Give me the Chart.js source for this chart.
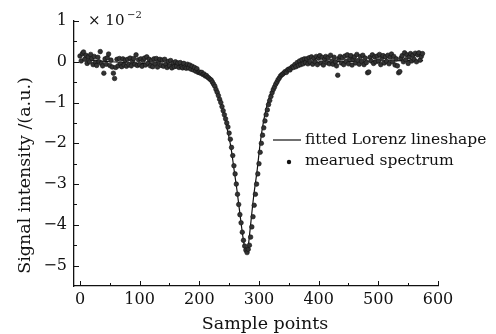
<!DOCTYPE html>
<html>
<head>
<meta charset="utf-8">
<script src="https://cdn.jsdelivr.net/npm/chart.js@4.4.0/dist/chart.umd.min.js"></script>
<style>
  html, body { margin: 0; padding: 0; background: #fff; }
  #wrap { width: 496px; height: 334px; position: relative; }
</style>
</head>
<body>
<div id="wrap"><canvas id="chart"></canvas></div>
<script>
// measured spectrum: sample index
const measuredX = [
  0, 2, 4, 6, 8, 10, 12, 14, 16, 18,
  20, 22, 24, 26, 28, 30, 32, 34, 36, 38,
  40, 42, 44, 46, 48, 50, 52, 54, 56, 58,
  60, 62, 64, 66, 68, 70, 72, 74, 76, 78,
  80, 82, 84, 86, 88, 90, 92, 94, 96, 98,
  100, 102, 104, 106, 108, 110, 112, 114, 116, 118,
  120, 122, 124, 126, 128, 130, 132, 134, 136, 138,
  140, 142, 144, 146, 148, 150, 152, 154, 156, 158,
  160, 162, 164, 166, 168, 170, 172, 174, 176, 178,
  180, 182, 184, 186, 188, 190, 192, 194, 196, 198,
  200, 202, 204, 206, 208, 210, 212, 214, 216, 218,
  220, 222, 224, 226, 228, 230, 232, 234, 236, 238,
  240, 242, 244, 246, 248, 250, 252, 254, 256, 258,
  260, 262, 264, 266, 268, 270, 272, 274, 276, 278,
  280, 282, 284, 286, 288, 290, 292, 294, 296, 298,
  300, 302, 304, 306, 308, 310, 312, 314, 316, 318,
  320, 322, 324, 326, 328, 330, 332, 334, 336, 338,
  340, 342, 344, 346, 348, 350, 352, 354, 356, 358,
  360, 362, 364, 366, 368, 370, 372, 374, 376, 378,
  380, 382, 384, 386, 388, 390, 392, 394, 396, 398,
  400, 402, 404, 406, 408, 410, 412, 414, 416, 418,
  420, 422, 424, 426, 428, 430, 432, 434, 436, 438,
  440, 442, 444, 446, 448, 450, 452, 454, 456, 458,
  460, 462, 464, 466, 468, 470, 472, 474, 476, 478,
  480, 482, 484, 486, 488, 490, 492, 494, 496, 498,
  500, 502, 504, 506, 508, 510, 512, 514, 516, 518,
  520, 522, 524, 526, 528, 530, 532, 534, 536, 538,
  540, 542, 544, 546, 548, 550, 552, 554, 556, 558,
  560, 562, 564, 566, 568, 570, 572, 574
];
// measured spectrum: signal (x 1e-2)
const measuredY = [
  0.14, 0.02, 0.20, 0.24, 0.06, 0.16, -0.04, 0.12, 0.00, 0.18,
  0.08, -0.07, 0.13, -0.01, -0.09, 0.11, 0.00, 0.25, -0.04, -0.10,
  -0.28, 0.07, -0.06, 0.10, 0.19, -0.09, 0.04, -0.13, -0.28, -0.41,
  -0.14, 0.06, -0.10, 0.08, -0.05, -0.12, 0.07, -0.08, 0.04, -0.11,
  0.06, -0.07, 0.09, -0.10, 0.02, 0.08, -0.06, 0.17, -0.09, 0.05,
  -0.07, 0.07, -0.11, 0.03, 0.09, -0.08, 0.12, -0.04, 0.06, -0.10,
  0.03, -0.12, 0.07, -0.05, 0.08, -0.13, 0.01, 0.06, -0.09, 0.04,
  -0.11, 0.06, -0.06, -0.14, 0.01, -0.10, 0.03, -0.15, -0.03, -0.12,
  0.00, -0.11, -0.03, -0.14, -0.02, -0.12, -0.15, -0.04, -0.13, -0.16,
  -0.06, -0.15, -0.08, -0.18, -0.11, -0.20, -0.14, -0.23, -0.17, -0.26,
  -0.25, -0.28, -0.26, -0.31, -0.30, -0.35, -0.34, -0.38, -0.40, -0.43,
  -0.45, -0.50, -0.55, -0.60, -0.68, -0.75, -0.83, -0.92, -1.00, -1.10,
  -1.20, -1.30, -1.40, -1.50, -1.60, -1.75, -1.90, -2.10, -2.30, -2.55,
  -2.75, -3.00, -3.25, -3.50, -3.75, -3.95, -4.18, -4.38, -4.52, -4.62,
  -4.68, -4.60, -4.50, -4.30, -4.05, -3.80, -3.52, -3.25, -3.00, -2.75,
  -2.50, -2.22, -2.00, -1.80, -1.62, -1.45, -1.30, -1.18, -1.05, -0.95,
  -0.85, -0.76, -0.68, -0.62, -0.55, -0.50, -0.44, -0.40, -0.35, -0.32,
  -0.30, -0.27, -0.24, -0.26, -0.20, -0.18, -0.20, -0.15, -0.12, -0.14,
  -0.07, -0.12, -0.02, -0.09, 0.02, -0.07, 0.05, -0.05, 0.07, -0.02,
  0.07, -0.05, 0.10, -0.01, 0.12, -0.06, 0.08, 0.00, 0.13, -0.07,
  0.09, 0.15, -0.03, 0.11, -0.08, 0.06, 0.13, -0.02, 0.10, -0.05,
  0.16, 0.01, -0.06, 0.11, 0.00, -0.10, -0.33, 0.08, 0.13, -0.03,
  0.10, -0.07, 0.14, 0.01, 0.17, -0.05, 0.08, 0.15, -0.08, 0.06,
  0.12, -0.03, 0.18, 0.03, -0.06, 0.13, 0.01, 0.16, -0.07, 0.09,
  -0.02, -0.27, -0.25, 0.11, 0.02, 0.17, -0.04, 0.12, 0.00, 0.14,
  0.02, 0.18, -0.07, 0.10, 0.15, -0.03, 0.12, 0.01, 0.16, -0.05,
  0.11, 0.19, 0.00, 0.13, -0.08, 0.07, -0.10, -0.27, -0.24, 0.09,
  0.15, 0.00, 0.22, 0.05, 0.17, -0.04, 0.12, 0.20, 0.02, 0.16,
  0.06, 0.21, 0.00, 0.17, 0.22, 0.04, 0.13, 0.20
];

// fitted Lorentz lineshape
const fitX = [0, 50, 100, 150, 184, 200, 219, 227, 238, 246, 253, 258, 263, 268, 273, 276, 279, 282, 285, 291, 297, 302, 308, 316, 327, 337, 347, 360, 380, 420, 500, 575];
const fitY = [0.06, 0.0, -0.04, -0.07, -0.11, -0.22, -0.44, -0.6, -1.1, -1.6, -2.1, -2.62, -3.14, -3.72, -4.29, -4.55, -4.65, -4.52, -4.13, -3.31, -2.65, -2.0, -1.43, -0.93, -0.52, -0.35, -0.24, -0.12, -0.04, 0.0, 0.02, 0.03];

const xTickValues = [0, 100, 200, 300, 400, 500, 600];
const yTickValues = [1, 0, -1, -2, -3, -4, -5];

const xTitle = 'Sample points';
const yTitle = 'Signal intensity /(a.u.)';
const legendLabels = ['fitted Lorenz lineshape', 'mearued spectrum'];

const FONT = '"DejaVu Serif", serif';
const INK = '#111';

const fmtMinus = (v) => String(v).replace('-', '\u2212');

// inward major/minor ticks, axis titles, exponent and legend
const decorPlugin = {
  id: 'decor',
  afterDraw(chart) {
    const { ctx, chartArea: area, scales: { x, y } } = chart;
    ctx.save();
    ctx.strokeStyle = INK;
    ctx.lineWidth = 1;

    const xt = x.ticks.map(t => t.value);
    ctx.beginPath();
    xt.forEach((v, i) => {
      const px = Math.round(x.getPixelForValue(v)) + 0.5;
      ctx.moveTo(px, area.bottom); ctx.lineTo(px, area.bottom - 5);
      if (i < xt.length - 1) {
        const mx = Math.round(x.getPixelForValue((v + xt[i + 1]) / 2)) + 0.5;
        ctx.moveTo(mx, area.bottom); ctx.lineTo(mx, area.bottom - 3);
      }
    });
    const yt = y.ticks.map(t => t.value);
    yt.forEach((v, i) => {
      const py = Math.round(y.getPixelForValue(v)) + 0.5;
      ctx.moveTo(area.left, py); ctx.lineTo(area.left + 5, py);
      if (i < yt.length - 1) {
        const my = Math.round(y.getPixelForValue((v + yt[i + 1]) / 2)) + 0.5;
        ctx.moveTo(area.left, my); ctx.lineTo(area.left + 3, my);
      }
    });
    ctx.stroke();

    // exponent next to top tick
    ctx.fillStyle = INK;
    ctx.textBaseline = 'middle';
    ctx.textAlign = 'left';
    ctx.font = '15px ' + FONT;
    const topY = y.getPixelForValue(1);
    ctx.fillText('\u00d7 10', area.left + 14, topY);
    ctx.font = '10px ' + FONT;
    ctx.fillText('\u22122', area.left + 53, topY - 6);

    // axis titles
    ctx.font = '17.5px ' + FONT;
    ctx.textAlign = 'center';
    ctx.fillText(xTitle, (area.left + area.right) / 2 + 9, area.bottom + 38);
    ctx.save();
    ctx.translate(25, (area.top + area.bottom) / 2 + 22);
    ctx.rotate(-Math.PI / 2);
    ctx.fillText(yTitle, 0, 0);
    ctx.restore();

    // legend
    const lx = area.right - 165;
    const ly = area.top + 119;
    ctx.beginPath();
    ctx.lineWidth = 1.2;
    ctx.moveTo(lx, ly); ctx.lineTo(lx + 28, ly);
    ctx.stroke();
    ctx.beginPath();
    ctx.arc(lx + 16, ly + 22, 2.2, 0, Math.PI * 2);
    ctx.fill();
    ctx.font = '15.5px ' + FONT;
    ctx.textAlign = 'left';
    ctx.fillText(legendLabels[0], lx + 32, ly);
    ctx.fillText(legendLabels[1], lx + 32, ly + 21);
    ctx.restore();
  }
};

const measured = measuredX.map((v, i) => ({ x: v, y: measuredY[i] }));
const fitted = fitX.map((v, i) => ({ x: v, y: fitY[i] }));

new Chart(document.getElementById('chart'), {
  type: 'scatter',
  data: {
    datasets: [
      {
        label: legendLabels[1],
        data: measured,
        pointRadius: 2.3,
        pointBackgroundColor: '#333',
        pointBorderColor: '#111',
        pointBorderWidth: 0.6,
        showLine: false
      },
      {
        label: legendLabels[0],
        data: fitted,
        showLine: true,
        borderColor: INK,
        borderWidth: 1.2,
        pointRadius: 0,
        cubicInterpolationMode: 'monotone'
      }
    ]
  },
  options: {
    responsive: true,
    maintainAspectRatio: false,
    animation: false,
    layout: { padding: { left: 0, right: 58, top: 21, bottom: 0 } },
    plugins: {
      legend: { display: false },
      tooltip: { enabled: false }
    },
    scales: {
      x: {
        type: 'linear',
        min: -10,
        max: 600,
        afterFit(scale) { scale.height = 48; },
        afterBuildTicks(scale) { scale.ticks = xTickValues.map(v => ({ value: v })); },
        grid: { display: false, drawTicks: false },
        border: { display: true, color: INK, width: 1.3 },
        ticks: {
          padding: 4,
          color: INK,
          maxRotation: 0,
          autoSkip: false,
          font: { family: FONT, size: 16 }
        }
      },
      y: {
        type: 'linear',
        min: -5.5,
        max: 1,
        afterFit(scale) { scale.width = 74; },
        afterBuildTicks(scale) { scale.ticks = yTickValues.map(v => ({ value: v })); },
        grid: { display: false, drawTicks: false },
        border: { display: true, color: INK, width: 1.3 },
        ticks: {
          padding: 7,
          color: INK,
          autoSkip: false,
          font: { family: FONT, size: 16 },
          callback: fmtMinus
        }
      }
    }
  },
  plugins: [decorPlugin]
});
</script>
</body>
</html>
